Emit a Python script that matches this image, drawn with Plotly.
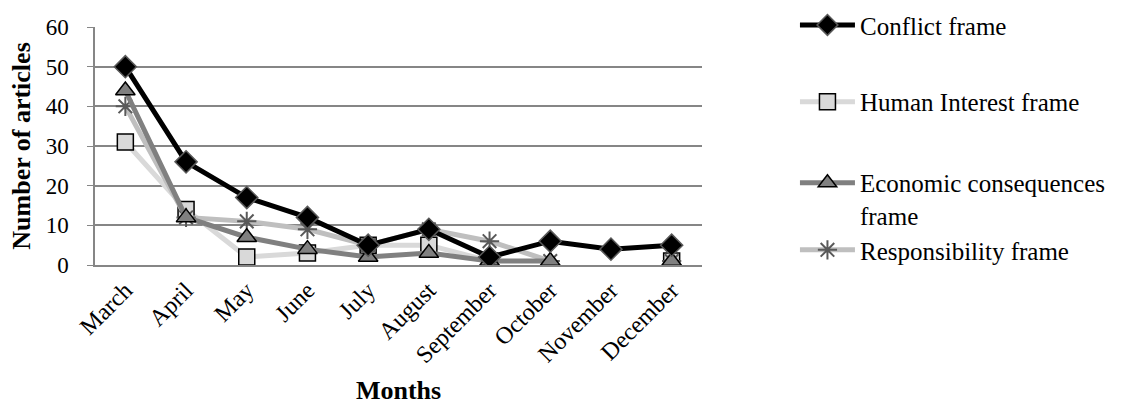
import plotly.graph_objects as go

months = ["March", "April", "May", "June", "July", "August", "September", "October", "November", "December"]
conflict = [50, 26, 17, 12, 5, 9, 2, 6, 4, 5]
human_interest = [31, 14, 2, 3, 5, 5, 1, None, None, 1]
economic = [44, 12, 7, 4, 2, 3, 1, 1, None, 1]
responsibility = [40, 12, 11, 9, 5, 9, 6, 1, None, 1]

FONT = "Times New Roman"

fig = go.Figure()

fig.add_trace(go.Scatter(
    x=months, y=human_interest, name="Human Interest frame", mode="lines+markers",
    line=dict(color="#d9d9d9", width=5),
    marker=dict(symbol="square", size=16, color="#d9d9d9", line=dict(color="#000000", width=1.5)),
    legend="legend2"))
fig.add_trace(go.Scatter(
    x=months, y=responsibility, name="Responsibility frame", mode="lines+markers",
    line=dict(color="#bfbfbf", width=5),
    marker=dict(symbol="asterisk-open", size=16, color="#595959", line=dict(color="#595959", width=2)),
    legend="legend4"))
fig.add_trace(go.Scatter(
    x=months, y=economic, name="Economic consequences<br>frame", mode="lines+markers",
    line=dict(color="#808080", width=5),
    marker=dict(symbol="triangle-up", size=17, color="#808080", line=dict(color="#000000", width=1.5)),
    legend="legend3"))
fig.add_trace(go.Scatter(
    x=months, y=conflict, name="Conflict frame", mode="lines+markers",
    line=dict(color="#000000", width=5),
    marker=dict(symbol="diamond", size=17, color="#000000", line=dict(color="#595959", width=1.5)),
    legend="legend"))

def leg(y):
    return dict(x=0.706, y=y, xref="container", yref="container",
                xanchor="left", yanchor="middle", bgcolor="rgba(0,0,0,0)",
                font=dict(family=FONT, size=25, color="#000000"), itemwidth=55, valign="top",
                borderwidth=0, tracegroupgap=0)

fig.update_layout(
    width=1126, height=406,
    showlegend=True,
    margin=dict(l=95, r=424, t=27, b=141, autoexpand=False),
    paper_bgcolor="white", plot_bgcolor="white",
    font=dict(family=FONT, size=23, color="#000000"),
    legend=leg(0.938),
    legend2=leg(0.749),
    legend3=leg(0.51),
    legend4=leg(0.384),
    xaxis=dict(
        type="category", tickangle=-45, showgrid=False,
        showline=True, linecolor="#868686", linewidth=1.5,
        tickfont=dict(family=FONT, size=24, color="#000000"),
        title=dict(text="<b>Months</b>", font=dict(family=FONT, size=26), standoff=14),
        range=[-0.5, 9.5],
    ),
    yaxis=dict(
        range=[0, 60], dtick=10, showgrid=True, gridcolor="#868686", gridwidth=1.5,
        showline=True, linecolor="#868686", linewidth=1.5,
        ticks="outside", ticklen=6, tickcolor="#868686",
        zeroline=False, ticklabelstandoff=14,
        tickfont=dict(family=FONT, size=23, color="#000000"),
        title=dict(text="<b>Number of articles</b>", font=dict(family=FONT, size=26), standoff=8),
    ),
)

fig.write_html("out.html")
